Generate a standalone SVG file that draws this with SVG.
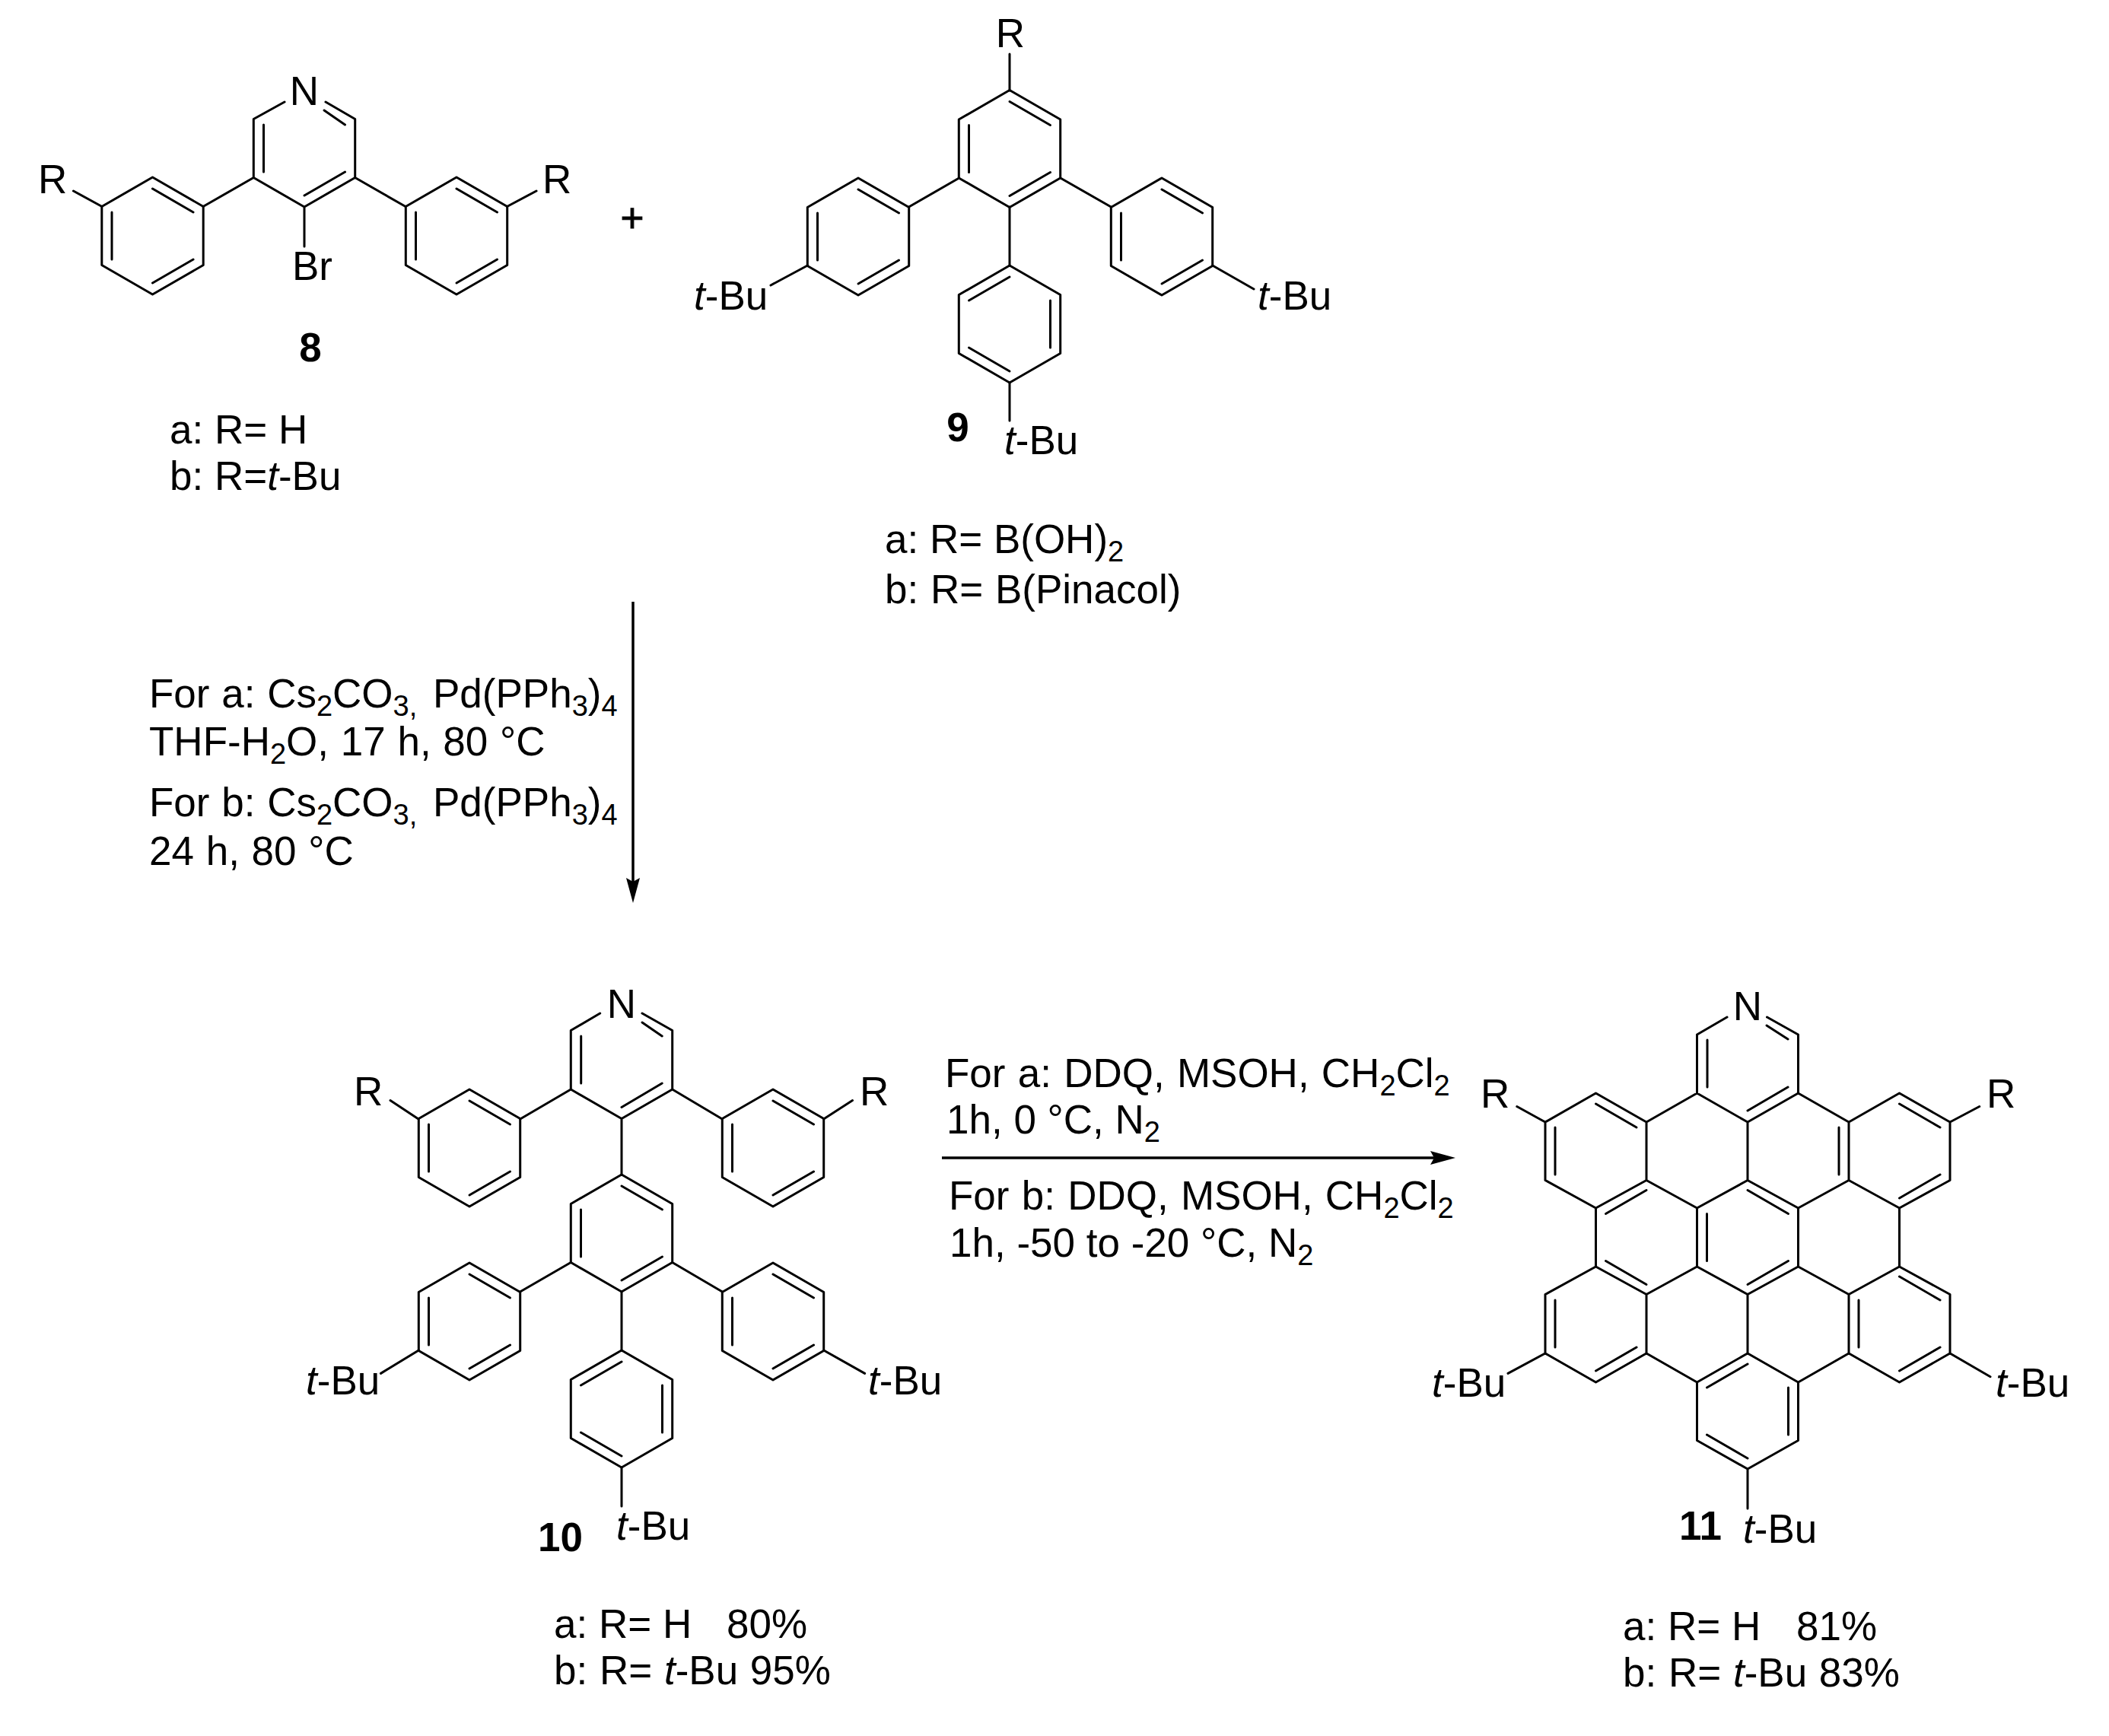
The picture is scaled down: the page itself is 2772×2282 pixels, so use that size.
<svg xmlns="http://www.w3.org/2000/svg" width="2772" height="2282" viewBox="0 0 2772 2282">
<style>
.b{fill:none;stroke:#000;stroke-width:3;stroke-linecap:round;stroke-linejoin:round}
.a{fill:none;stroke:#000;stroke-width:3.5}
text{font-family:"Liberation Sans",Arial,sans-serif;font-size:53px;fill:#000}
.m{text-anchor:middle}
.n{font-weight:bold}
.i{font-style:italic}
.s{font-size:38px}
.w text{word-spacing:1px}
</style>
<defs>
<path id="h" class="b" d="M0,-77L66.7,-38.5V38.5L0,77L-66.7,38.5V-38.5Z"/>
<path id="tr" class="b" d="M0,-62L53.5,-31"/>
<path id="r" class="b" d="M53.5,-31V31"/>
<path id="br" class="b" d="M53.5,31L0,62"/>
<path id="bl" class="b" d="M0,62L-53.5,31"/>
<path id="l" class="b" d="M-53.5,31V-31"/>
<path id="tl" class="b" d="M-53.5,-31L0,-62"/>
<marker id="head" markerUnits="userSpaceOnUse" markerWidth="36" markerHeight="20" refX="8" refY="10" orient="auto">
<path d="M0,1L33,10L0,19L5,10Z" fill="#000"/>
</marker>
</defs>
<rect width="2772" height="2282" fill="#fff"/>

<g id="compound-8">
<path class="b" d="M374,134L333.3,156.5V233.5L400,272L466.7,233.5V156.5L428,134M426,145L453.5,164M400,257L453.5,226M400,272V324M333.3,233.5L267,271.5M466.7,233.5L533,271.5M134,271.5L96.5,251M666.5,271.5L705,251"/>
<use href="#l" x="400" y="195"/>
<g transform="translate(200.5,310)"><use href="#h"/><use href="#tr"/><use href="#l"/><use href="#br"/></g>
<g transform="translate(600,310)"><use href="#h"/><use href="#tr"/><use href="#l"/><use href="#br"/></g>
<text class="m" x="400" y="138">N</text>
<text x="384" y="368">Br</text>
<text x="50" y="254">R</text>
<text x="713" y="254">R</text>
<text class="m n" x="408" y="475">8</text>
<text x="223" y="583">a: R= H</text>
<text x="223" y="644">b: R=<tspan class="i">t</tspan>-Bu</text>
</g>

<g id="plus"><text class="m" x="831" y="305" style="stroke:#000;stroke-width:1">+</text></g>

<g id="compound-9">
<path class="b" d="M1327,119V71M1260.6,234L1194.6,272M1393.8,234L1460.3,272M1327,272V349M1327,503V553M1061.4,349L1013,375M1593.7,349L1648,380"/>
<g transform="translate(1327,195.5)"><use href="#h"/><use href="#tr"/><use href="#l"/><use href="#br"/></g>
<g transform="translate(1128,311)"><use href="#h"/><use href="#tr"/><use href="#l"/><use href="#br"/></g>
<g transform="translate(1527,311)"><use href="#h"/><use href="#tr"/><use href="#l"/><use href="#br"/></g>
<g transform="translate(1327,426)"><use href="#h"/><use href="#tl"/><use href="#r"/><use href="#bl"/></g>
<text class="m" x="1328" y="62">R</text>
<text x="912" y="407"><tspan class="i">t</tspan>-Bu</text>
<text x="1653" y="407"><tspan class="i">t</tspan>-Bu</text>
<text x="1320" y="597"><tspan class="i">t</tspan>-Bu</text>
<text class="m n" x="1259" y="580">9</text>
<text x="1163" y="727">a: R= B(OH)<tspan class="s" dy="11">2</tspan></text>
<text x="1163" y="793" style="word-spacing:1px">b: R= B(Pinacol)</text>
</g>

<g id="compound-10">
<path class="b" d="M788.7,1332L750.3,1354.5V1432L817,1470.5L883.7,1432V1354.5L844,1332M844,1344L870.2,1362M763.7,1362V1424M817,1455.5L870.2,1424M817,1470.5V1544.5M750.3,1432L683.7,1471M883.7,1432L949.3,1471M550,1471L513,1446.6M1082.6,1471L1120.5,1446.6M750.3,1659.5L683.7,1698M883.7,1659.5L949.3,1698M817,1698V1775M817,1929V1980M550.3,1775L500.5,1805.4M1082.7,1775L1136.6,1805.4"/>
<g transform="translate(617,1509)"><use href="#h"/><use href="#tr"/><use href="#l"/><use href="#br"/></g>
<g transform="translate(1016,1509)"><use href="#h"/><use href="#tr"/><use href="#l"/><use href="#br"/></g>
<g transform="translate(817,1621)"><use href="#h"/><use href="#tr"/><use href="#l"/><use href="#br"/></g>
<g transform="translate(617,1737)"><use href="#h"/><use href="#tr"/><use href="#l"/><use href="#br"/></g>
<g transform="translate(1016,1737)"><use href="#h"/><use href="#tr"/><use href="#l"/><use href="#br"/></g>
<g transform="translate(817,1852)"><use href="#h"/><use href="#tl"/><use href="#r"/><use href="#bl"/></g>
<text class="m" x="817" y="1338">N</text>
<text x="465" y="1453">R</text>
<text x="1130" y="1453">R</text>
<text x="402" y="1833"><tspan class="i">t</tspan>-Bu</text>
<text x="1141" y="1833"><tspan class="i">t</tspan>-Bu</text>
<text x="810" y="2024"><tspan class="i">t</tspan>-Bu</text>
<text class="n" x="707" y="2039">10</text>
<text x="728" y="2153">a: R= H <tspan x="955">80%</tspan></text>
<text x="728" y="2214" style="word-spacing:1px">b: R= <tspan class="i">t</tspan>-Bu 95%</text>
</g>

<g id="compound-11">
<path class="b" d="M2230.5,1437V1360L2270,1337M2322.5,1337L2363.5,1360V1437L2297,1475L2230.5,1437L2164,1475L2097.5,1437L2031,1475V1551.5L2097.5,1588L2164,1551.5V1475M2164,1551.5L2230.5,1588L2297,1551.5L2363.5,1588L2430,1551.5L2496.5,1588L2563,1551.5V1475L2496.5,1437L2430,1475L2363.5,1437M2430,1475V1551.5M2297,1475V1551.5M2097.5,1588V1665L2164,1701.5L2230.5,1665V1588M2230.5,1665L2297,1701.5L2363.5,1665V1588M2363.5,1665L2430,1701.5L2496.5,1665V1588M2496.5,1665L2563,1701.5V1779L2496.5,1817L2430,1779V1701.5M2430,1779L2363.5,1817L2297,1779V1701.5M2297,1779L2230.5,1817L2164,1779V1701.5M2164,1779L2097.5,1817L2031,1779V1701.5L2097.5,1665M2230.5,1817V1893.5L2297,1931L2363.5,1893.5V1817M2031,1475L1993.8,1454.5M2563,1475L2601.7,1454.5M2031,1779L1982,1805.4M2563,1779L2616,1809.7M2297,1931V1983M2322,1348L2350,1366M2244,1367V1429M2297,1460L2350,1429"/>
<use href="#tr" x="2097.5" y="1513"/><use href="#l" x="2097.5" y="1513"/>
<use href="#tl" x="2164" y="1626.5"/><use href="#bl" x="2164" y="1626.5"/>
<use href="#tr" x="2297" y="1626.5"/><use href="#l" x="2297" y="1626.5"/><use href="#br" x="2297" y="1626.5"/>
<use href="#r" x="2363.5" y="1513"/>
<use href="#tr" x="2496.5" y="1513"/><use href="#br" x="2496.5" y="1513"/>
<use href="#tr" x="2496.5" y="1740"/><use href="#br" x="2496.5" y="1740"/><use href="#l" x="2496.5" y="1740"/>
<use href="#br" x="2097.5" y="1740"/><use href="#l" x="2097.5" y="1740"/>
<use href="#tl" x="2297" y="1855"/><use href="#bl" x="2297" y="1855"/><use href="#r" x="2297" y="1855"/>
<text class="m" x="2297" y="1341">N</text>
<text x="1946" y="1456">R</text>
<text x="2611" y="1456">R</text>
<text x="1882" y="1836"><tspan class="i">t</tspan>-Bu</text>
<text x="2623" y="1836"><tspan class="i">t</tspan>-Bu</text>
<text x="2291" y="2028"><tspan class="i">t</tspan>-Bu</text>
<text class="n" x="2207" y="2024">11</text>
<text x="2133" y="2156">a: R= H <tspan x="2361">81%</tspan></text>
<text x="2133" y="2217" style="word-spacing:1px">b: R= <tspan class="i">t</tspan>-Bu 83%</text>
</g>

<g id="connectors">
<path class="a" d="M832,791V1162" marker-end="url(#head)"/>
<path class="a" d="M1238,1522H1888" marker-end="url(#head)"/>
</g>

<g id="conditions-suzuki" class="w">
<text x="196" y="930">For a: Cs<tspan class="s" dy="11">2</tspan><tspan dy="-11">CO</tspan><tspan class="s" dy="11">3,</tspan><tspan x="569" dy="-11">Pd(PPh</tspan><tspan class="s" dy="11">3</tspan><tspan dy="-11">)</tspan><tspan class="s" dy="11">4</tspan></text>
<text x="196" y="993">THF-H<tspan class="s" dy="11">2</tspan><tspan dy="-11">O, 17 h, 80 °C</tspan></text>
<text x="196" y="1073">For b: Cs<tspan class="s" dy="11">2</tspan><tspan dy="-11">CO</tspan><tspan class="s" dy="11">3,</tspan><tspan x="569" dy="-11">Pd(PPh</tspan><tspan class="s" dy="11">3</tspan><tspan dy="-11">)</tspan><tspan class="s" dy="11">4</tspan></text>
<text x="196" y="1137">24 h, 80 °C</text>
</g>

<g id="conditions-ddq">
<text x="1242" y="1429" style="word-spacing:1.5px">For a: DDQ, MSOH, CH<tspan class="s" dy="11">2</tspan><tspan dy="-11">Cl</tspan><tspan class="s" dy="11">2</tspan></text>
<text x="1244" y="1490">1h, 0 °C, N<tspan class="s" dy="11">2</tspan></text>
<text x="1247" y="1590" style="word-spacing:1.5px">For b: DDQ, MSOH, CH<tspan class="s" dy="11">2</tspan><tspan dy="-11">Cl</tspan><tspan class="s" dy="11">2</tspan></text>
<text x="1248" y="1652">1h, -50 to -20 °C, N<tspan class="s" dy="11">2</tspan></text>
</g>
</svg>
